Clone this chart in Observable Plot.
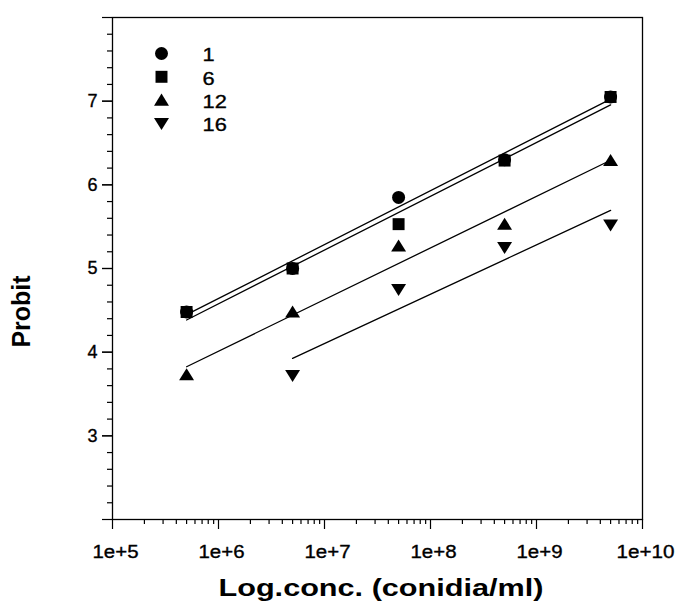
<!DOCTYPE html>
<html>
<head>
<meta charset="utf-8">
<script src="https://cdn.jsdelivr.net/npm/d3@7"></script>
<script src="https://cdn.jsdelivr.net/npm/@observablehq/plot@0.6"></script>
<style>
  html, body { margin: 0; padding: 0; background: #fff; }
  #chart svg { display: block; }
</style>
</head>
<body>
<div id="chart"></div>
<script>
// ---- data ----
const concentrations = [5e5, 5e6, 5e7, 5e8, 5e9];
const seriesNames = ["1", "6", "12", "16"];
const probit1  = [4.48, 5.00, 5.85, 6.30, 7.05];
const probit6  = [4.48, 5.00, 5.53, 6.29, 7.05];
const probit12 = [3.73, 4.48, 5.27, 5.53, 6.29];
const probit16 = [null, 3.72, 4.75, 5.25, 5.52];
const xTickValues = [1e5, 1e6, 1e7, 1e8, 1e9, 1e10];
const yTickValues = [3, 4, 5, 6, 7];
const xTitle = "Log.conc. (conidia/ml)";
const yTitle = "Probit";

// ---- build tables ----
const allProbits = [probit1, probit6, probit12, probit16];
const points = [];
allProbits.forEach((arr, si) => arr.forEach((v, i) => {
  if (v != null) points.push({series: seriesNames[si], conc: concentrations[i], probit: v});
}));

// least squares fit of probit on log10(concentration), drawn over each series' range
const fits = [];
allProbits.forEach((arr, si) => {
  const pts = arr.map((v, i) => [Math.log10(concentrations[i]), v]).filter(d => d[1] != null);
  const mx = d3.mean(pts, d => d[0]), my = d3.mean(pts, d => d[1]);
  const slope = d3.sum(pts, d => (d[0] - mx) * (d[1] - my)) / d3.sum(pts, d => (d[0] - mx) ** 2);
  const ends = [pts[0][0], pts[pts.length - 1][0]];
  ends.forEach(lx => fits.push({series: seriesNames[si], conc: 10 ** lx, probit: my + slope * (lx - mx)}));
});

const minorX = [];
for (let k = 5; k < 10; k++) for (let m = 2; m <= 9; m++) minorX.push(m * 10 ** k);
const minorY = d3.range(2.2, 8.0, 0.2).map(v => +v.toFixed(1)).filter(v => Math.abs(v - Math.round(v)) > 1e-6);
const majorYAll = [2, 3, 4, 5, 6, 7, 8];

// ---- symbols ----
const sym = {
  square: {draw(ctx, size) { const r = Math.sqrt(size / Math.PI) * 0.92; ctx.rect(-r, -r, 2 * r, 2 * r); }},
  up: {draw(ctx, size) { const r = Math.sqrt(size / Math.PI); ctx.moveTo(0, -r * 1.0); ctx.lineTo(r * 1.15, r * 0.85); ctx.lineTo(-r * 1.15, r * 0.85); ctx.closePath(); }},
  down: {draw(ctx, size) { const r = Math.sqrt(size / Math.PI); ctx.moveTo(0, r * 1.0); ctx.lineTo(r * 1.15, -r * 0.85); ctx.lineTo(-r * 1.15, -r * 0.85); ctx.closePath(); }},
  circle: "circle"
};
const symbolOf = {"1": sym.circle, "6": sym.square, "12": sym.up, "16": sym.down};

const R = 6.5;
const font = "'Liberation Sans', Arial, Helvetica, sans-serif";

const marks = [
  Plot.frame({stroke: "black", strokeWidth: 1.3}),
  // minor ticks
  Plot.axisX({ticks: minorX, tickSize: 5, tickFormat: () => "", label: null, strokeWidth: 1.2}),
  Plot.axisY({ticks: minorY, tickSize: 5, tickFormat: () => "", label: null, strokeWidth: 1.2}),
  // major ticks
  Plot.axisX({ticks: xTickValues, tickSize: 10, tickPadding: 16, fontSize: 18,
              tickFormat: d => "1e+" + Math.round(Math.log10(d)), label: null, strokeWidth: 1.2}),
  Plot.axisY({ticks: majorYAll, tickSize: 10, tickFormat: () => "", label: null, strokeWidth: 1.2}),
  Plot.axisY({ticks: yTickValues, tickSize: 10, tickPadding: 5, fontSize: 18, tickFormat: d => String(d),
              label: null, strokeWidth: 1.2}),
  // fitted lines
  Plot.line(fits, {x: "conc", y: "probit", z: "series", stroke: "black", strokeWidth: 1.3}),
];

// data points
seriesNames.forEach(s => {
  marks.push(Plot.dot(points.filter(d => d.series === s),
    {x: "conc", y: "probit", r: R, fill: "black", stroke: "none", symbol: symbolOf[s]}));
});

// legend inside plot
seriesNames.forEach((s, i) => {
  marks.push(Plot.dot([s], {frameAnchor: "top-left", dx: 49, dy: 36 + 23.3 * i, r: R, fill: "black", stroke: "none", symbol: symbolOf[s]}));
  marks.push(Plot.text([s], {frameAnchor: "top-left", dx: 90, dy: 38 + 23.3 * i, text: d => d, textAnchor: "start", lineAnchor: "middle", fontSize: 18.5, fill: "black", className: "legend-label"}));
});

// axis titles
marks.push(Plot.text([yTitle], {frameAnchor: "left", dx: -91, dy: 43, rotate: -90, text: d => d, textAnchor: "middle", lineAnchor: "middle", fontSize: 25, fontWeight: "bold", fill: "black"}));
marks.push(Plot.text([xTitle], {frameAnchor: "bottom", dx: 3.5, dy: 68.5, text: d => d, textAnchor: "middle", lineAnchor: "middle", fontSize: 23.5, fontWeight: "bold", fill: "black"}));

const chart = Plot.plot({
  width: 678,
  height: 601,
  marginLeft: 112,
  marginRight: 36,
  marginTop: 17,
  marginBottom: 82,
  style: {fontFamily: font, fontSize: "18px", color: "black", background: "white", overflow: "visible"},
  x: {type: "log", domain: [1e5, 1e10], axis: null},
  y: {domain: [2, 8], axis: null},
  marks
});
document.getElementById("chart").append(chart);

// widen/darken the lettering to match the reference's broad glyphs
chart.querySelectorAll("text").forEach(t => {
  const s = t.textContent;
  const stretch = (len) => { t.setAttribute("textLength", len); t.setAttribute("lengthAdjust", "spacingAndGlyphs"); };
  const darken = () => { t.style.stroke = "black"; t.style.strokeWidth = "0.35px"; };
  if (s === xTitle) stretch(325);
  else if (s === yTitle) stretch(72);
  else if (/^1e\+\d+$/.test(s)) { stretch(s.length === 4 ? 46 : 58); t.setAttribute("dx", 3); darken(); }
  else if (t.closest(".legend-label") || (t.parentNode && t.parentNode.classList && t.parentNode.classList.contains("legend-label"))) {
    stretch(t.getComputedTextLength() * 1.18); darken();
  }
  else if (/^\d$/.test(s)) darken();
});
</script>
</body>
</html>
